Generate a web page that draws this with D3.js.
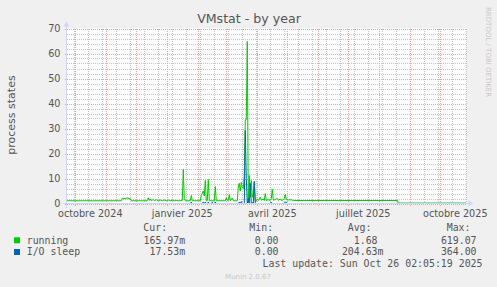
<!DOCTYPE html>
<html><head><meta charset="utf-8">
<script src="https://cdn.jsdelivr.net/npm/d3@7"></script>
<style>
html,body{margin:0;padding:0;background:#f0f0f0;}
svg{display:block;}
text{white-space:pre;}
</style></head><body>
<svg id="chart" width="497" height="287"></svg>
<script>
// ---------------- data ----------------
const chartTitle = "VMstat - by year";
const yAxisTitle = "process states";
const yTicks = [0, 10, 20, 30, 40, 50, 60, 70];
const yMinorStep = 2;
const xLabelMonths = ["2024-10-01", "2025-01-01", "2025-04-01", "2025-07-01", "2025-10-01"];
const xLabels = ["octobre 2024", "janvier 2025", "avril 2025", "juillet 2025", "octobre 2025"];
const minorGridStart = "2024-09-30";
const timeStart = "2024-09-22T05:00";
const timeEnd = "2025-10-27T05:00";

const seriesNames = ["running", "I/O sleep"];
const seriesColors = ["#00cc00", "#0066b3"];
const legendHeaders = ["Cur:", "Min:", "Avg:", "Max:"];
const runningStats = ["165.97m", "  0.00 ", "  1.68 ", "619.07 "];
const ioSleepStats = [" 17.53m", "  0.00 ", "204.63m", "364.00 "];
const lastUpdate = "Last update: Sun Oct 26 02:05:19 2025";
const footer = "Munin 2.0.67";
const watermark = "RRDTOOL / TOBI OETIKER";

const runningDates = [
  "2024-09-22","2024-11-16","2024-11-17","2024-11-20","2024-11-22","2024-11-25","2024-11-26",
  "2024-12-12","2024-12-13","2024-12-14","2024-12-15","2024-12-16","2024-12-18","2024-12-19",
  "2024-12-21","2024-12-23","2024-12-25","2024-12-27","2024-12-29","2024-12-31","2025-01-02",
  "2025-01-04","2025-01-06","2025-01-08","2025-01-10","2025-01-13","2025-01-16","2025-01-17",
  "2025-01-18","2025-01-19","2025-01-24","2025-01-25","2025-01-26","2025-02-03","2025-02-04",
  "2025-02-05","2025-02-06","2025-02-07","2025-02-08","2025-02-09","2025-02-10","2025-02-11",
  "2025-02-12","2025-02-17","2025-02-18","2025-02-19","2025-02-28","2025-03-01","2025-03-02",
  "2025-03-03","2025-03-04","2025-03-05","2025-03-07","2025-03-08","2025-03-12","2025-03-13",
  "2025-03-14","2025-03-15","2025-03-16","2025-03-17","2025-03-18","2025-03-19","2025-03-20",
  "2025-03-21","2025-03-22","2025-03-23","2025-03-24","2025-03-25","2025-03-26","2025-03-27",
  "2025-03-28","2025-03-29","2025-03-30","2025-03-31","2025-04-01","2025-04-02","2025-04-04",
  "2025-04-05","2025-04-07","2025-04-08","2025-04-09","2025-04-10","2025-04-12","2025-04-14",
  "2025-04-15","2025-04-16","2025-04-17","2025-04-19","2025-04-21","2025-04-22","2025-04-24",
  "2025-04-25","2025-04-27","2025-04-28","2025-04-29","2025-04-30","2025-05-02","2025-05-05",
  "2025-05-07","2025-08-19","2025-08-20","2025-10-27"
];
const runningValues = [
  1.1, 1.1, 2.1, 2.0, 2.2, 1.9, 1.1,
  1.1, 2.3, 1.2, 1.8, 1.1, 1.6, 1.1,
  1.5, 1.1, 1.4, 1.1, 1.4, 1.1, 1.4,
  1.1, 1.3, 1.1, 1.2, 1.1, 1.3, 13.6,
  2.0, 1.1, 1.1, 3.2, 1.1, 1.1, 3.2,
  4.0, 5.0, 3.0, 9.2, 1.0, 1.2, 9.6,
  1.1, 1.1, 6.8, 1.1, 1.1, 2.3, 1.1,
  1.2, 3.5, 1.1, 2.2, 1.1, 1.1, 6.6,
  8.1, 5.0, 8.5, 6.5, 6.0, 11.3, 33.5,
  33.5, 64.8, 0.3, 11.2, 2.5, 9.2, 2.5,
  4.0, 9.0, 0.8, 1.1, 1.8, 1.2, 2.5,
  1.3, 1.8, 1.2, 4.0, 1.2, 1.5, 1.2,
  2.0, 5.7, 1.3, 1.6, 2.0, 1.3, 1.8,
  1.2, 1.5, 2.0, 3.6, 1.5, 1.4, 1.5,
  1.2, 1.2, 0.17, 0.17
];

const ioSleepDates = [
  "2024-09-22","2025-01-24","2025-01-25","2025-01-26","2025-02-05","2025-02-06","2025-02-07",
  "2025-02-08","2025-02-09","2025-02-10","2025-02-11","2025-02-12","2025-02-14","2025-02-15",
  "2025-02-16","2025-02-17","2025-02-18","2025-02-19","2025-03-13","2025-03-14","2025-03-15",
  "2025-03-16","2025-03-17","2025-03-19","2025-03-20","2025-03-21","2025-03-22","2025-03-23",
  "2025-03-24","2025-03-25","2025-03-26","2025-03-27","2025-03-28","2025-03-29","2025-03-30",
  "2025-04-14","2025-04-15","2025-04-16","2025-04-28","2025-04-29","2025-04-30","2025-05-01",
  "2025-08-19","2025-08-20","2025-10-27"
];
const ioSleepValues = [
  0, 0, 0.6, 0, 0, 0.6, 0,
  0.6, 0, 0, 0.6, 0, 0, 0.6,
  0, 0, 0.6, 0, 0, 0.6, 0,
  0.8, 0, 0, 29.2, 10.0, 0, 2.0,
  0, 8.0, 0, 0.5, 0, 8.5, 0,
  0, 0.6, 0, 0, 0.6, 0.6, 0,
  0, 0.02, 0.02
];

// ---------------- layout ----------------
const W = 497, H = 287;
const X0 = 66.5, XS = 400, Y0 = 203.5, YS = 175;
const fontSans = "'DejaVu Sans', sans-serif";
const fontMono = "'DejaVu Sans Mono', monospace";
const textCol = "#555";
const axisCol = "#cfd6f8";

const parseDay = d3.utcParse("%Y-%m-%d");
const parseTime = d3.utcParse("%Y-%m-%dT%H:%M");

const x = d3.scaleUtc().domain([parseTime(timeStart), parseTime(timeEnd)]).range([X0, X0 + XS]);
const y = d3.scaleLinear().domain([0, 70]).range([Y0, Y0 - YS]);

const svg = d3.select("#chart");
svg.append("rect").attr("width", W).attr("height", H).attr("fill", "#f0f0f0");
svg.append("rect").attr("x", X0).attr("y", Y0 - YS).attr("width", XS).attr("height", YS).attr("fill", "#ffffff");

const grid = svg.append("g").attr("shape-rendering", "crispEdges");
const minorCol = "#c4c4c4";
const majorCol = "#e8a2a2";

// minor horizontal
const yMinor = d3.range(yMinorStep, 70, yMinorStep).filter(v => v % 10 !== 0);
grid.selectAll(".hmin").data(yMinor).join("line")
  .attr("x1", X0).attr("x2", X0 + XS)
  .attr("y1", d => Math.round(y(d)) + 0.5).attr("y2", d => Math.round(y(d)) + 0.5)
  .attr("stroke", minorCol).attr("stroke-dasharray", "1,1");
// minor vertical (biweekly)
const minorDays = d3.utcMonday.range(parseDay(minorGridStart), x.domain()[1], 2);
grid.selectAll(".vmin").data(minorDays).join("line")
  .attr("x1", d => Math.round(x(d) - 0.5) + 0.5).attr("x2", d => Math.round(x(d) - 0.5) + 0.5)
  .attr("y1", Y0 - YS).attr("y2", Y0)
  .attr("stroke", minorCol).attr("stroke-dasharray", "1,1");
// major horizontal
grid.selectAll(".hmaj").data(yTicks).join("line")
  .attr("x1", X0 - 2).attr("x2", X0 + XS)
  .attr("y1", d => Math.round(y(d)) + 0.5).attr("y2", d => Math.round(y(d)) + 0.5)
  .attr("stroke", majorCol).attr("stroke-dasharray", "1,1");
// major vertical (monthly)
const months = d3.utcMonth.range(x.domain()[0], x.domain()[1]);
grid.selectAll(".vmaj").data(months).join("line")
  .attr("x1", d => Math.round(x(d) - 0.5) + 0.5).attr("x2", d => Math.round(x(d) - 0.5) + 0.5)
  .attr("y1", Y0 - YS).attr("y2", Y0 + 2)
  .attr("stroke", majorCol).attr("stroke-dasharray", "1,1");

// series
const series = [
  { name: seriesNames[0], color: seriesColors[0], pts: runningDates.map((d, i) => ({ date: parseDay(d), value: runningValues[i] })) },
  { name: seriesNames[1], color: seriesColors[1], pts: ioSleepDates.map((d, i) => ({ date: parseDay(d), value: ioSleepValues[i] })) }
];
const line = d3.line().x(d => x(d.date)).y(d => y(d.value));
series.forEach(s => {
  svg.append("path").attr("d", line(s.pts)).attr("fill", "none")
    .attr("stroke", s.color).attr("stroke-width", 1).attr("stroke-linejoin", "miter");
});

// axes
const ax = svg.append("g").attr("shape-rendering", "crispEdges");
ax.append("line").attr("x1", X0 - 4).attr("x2", X0 + XS + 4).attr("y1", Y0).attr("y2", Y0).attr("stroke", axisCol);
ax.append("line").attr("x1", X0).attr("x2", X0).attr("y1", Y0 + 4).attr("y2", Y0 - YS - 4).attr("stroke", axisCol);
svg.append("path").attr("d", `M${X0 + XS + 2},${Y0 - 3}L${X0 + XS + 2},${Y0 + 3}L${X0 + XS + 7},${Y0}Z`).attr("fill", axisCol);
svg.append("path").attr("d", `M${X0 - 3},${Y0 - YS - 2}L${X0 + 3},${Y0 - YS - 2}L${X0},${Y0 - YS - 7}Z`).attr("fill", axisCol);

// y tick labels
svg.append("g").selectAll("text").data(yTicks).join("text")
  .attr("x", 60.5).attr("y", d => y(d)).attr("dy", "0.36em")
  .attr("text-anchor", "end").attr("font-family", fontSans).attr("font-size", 9.7)
  .attr("fill", textCol).text(d => d);

// x labels (centered in the middle of the labelled month, rrdtool style)
svg.append("g").selectAll("text").data(xLabelMonths).join("text")
  .attr("x", (d, i) => x(d3.utcDay.offset(parseDay(d), 15)))
  .attr("y", 216.5).attr("text-anchor", "middle")
  .attr("font-family", fontSans).attr("font-size", 9.7).attr("fill", textCol)
  .text((d, i) => xLabels[i]);

// title
svg.append("text").attr("x", 249).attr("y", 23).attr("text-anchor", "middle")
  .attr("font-family", fontSans).attr("font-size", 12.6).attr("fill", textCol).text(chartTitle);

// y axis title
svg.append("text").attr("transform", "translate(14.5,115) rotate(-90)").attr("text-anchor", "middle")
  .attr("font-family", fontSans).attr("font-size", 11).attr("fill", textCol).text(yAxisTitle);

// watermark
svg.append("text").attr("transform", "translate(485.5,7) rotate(90)").attr("text-anchor", "start")
  .attr("font-family", fontSans).attr("font-size", 7).attr("fill", "#c8c8c8").text(watermark);

// legend
const lg = svg.append("g").attr("font-family", fontMono).attr("font-size", 9.9).attr("fill", textCol);
const headerX = [143.3, 249.3, 347.7, 446.7];
const colEnd = [185.2, 284.5, 383.5, 482.5];
legendHeaders.forEach((h, i) => lg.append("text").attr("x", headerX[i]).attr("y", 231.2).text(h));
const statsRows = [runningStats, ioSleepStats];
series.forEach((s, r) => {
  const yy = 243.5 + r * 11.7;
  lg.append("rect").attr("x", 14).attr("y", yy - 6.2).attr("width", 6).attr("height", 6).attr("fill", s.color);
  lg.append("text").attr("x", 26.7).attr("y", yy).text(s.name);
  statsRows[r].forEach((v, i) => lg.append("text").attr("x", colEnd[i]).attr("y", yy).attr("text-anchor", "end").text(v));
});
lg.append("text").attr("x", 482.5).attr("y", 266.8).attr("text-anchor", "end").text(lastUpdate);

svg.append("text").attr("x", 248).attr("y", 279).attr("text-anchor", "middle")
  .attr("font-family", fontSans).attr("font-size", 7).attr("fill", "#c8c8c8").text(footer);
</script>
</body></html>
